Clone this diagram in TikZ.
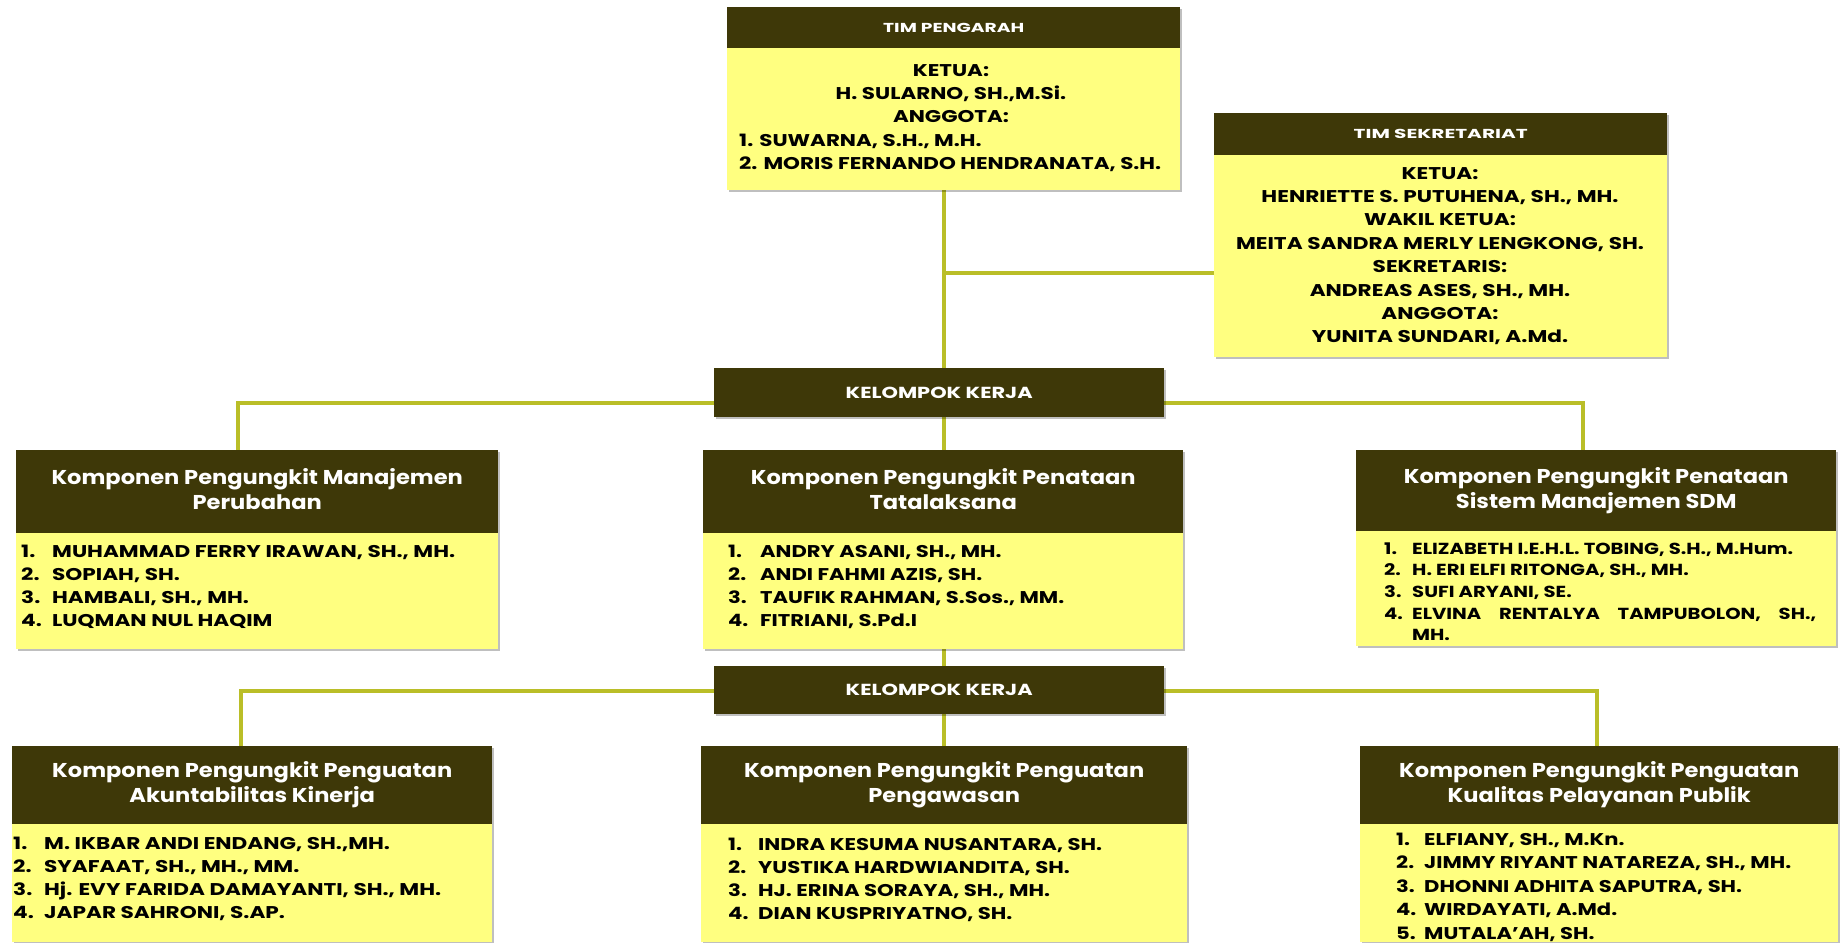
\documentclass[tikz,border=0pt]{standalone}
\usepackage{fontspec}
\setmainfont{Poppins}
\usepackage{graphicx}
\usetikzlibrary{shadows,backgrounds}

\definecolor{hdr}{RGB}{62,56,8}
\definecolor{ylw}{RGB}{255,255,128}
\definecolor{lnc}{RGB}{186,190,40}

\newlength\fitlen
\newlength\numw
\newlength\jw
\newcommand\fitbox[3]{\settowidth\fitlen{#2}\pgfmathsetmacro\fitr{#1/\fitlen}\scalebox{\fitr}[1]{#3}}
\newcommand\nlist[4]{\settowidth\fitlen{#2}\pgfmathsetmacro\fitr{#1/\fitlen}\pgfmathsetlength\numw{#3/\fitr}\scalebox{\fitr}[1]{\begin{tabular}[t]{@{}l@{}}#4\end{tabular}}}
\newcommand\nl[2]{\makebox[\numw][l]{#1}#2}

\tikzset{
  shd/.style={drop shadow={shadow xshift=1.5pt, shadow yshift=-2pt, fill=black, opacity=0.25}},
  hdrbox/.style={shd, fill=hdr, text=white, inner sep=0pt, anchor=north west},
  bodybox/.style={shd, fill=ylw, inner sep=0pt, anchor=north west},
  conn/.style={draw=lnc, line width=3.5pt},
  smallhdr/.style={font=\fontsize{13}{15}\selectfont\bfseries},
  kkhdr/.style={font=\fontsize{16}{18}\selectfont\bfseries},
  titlehdr/.style={font=\fontsize{20}{25}\selectfont\bfseries},
  namef/.style={font=\fontsize{17}{23.3}\selectfont\bfseries, inner sep=0pt, text=black},
}

\begin{document}
\begin{tikzpicture}[x=1pt,y=-1pt]
\useasboundingbox (0,0) rectangle (1841,942);

% TIM PENGARAH
\node[hdrbox, smallhdr, minimum width=453pt, minimum height=41pt] (pengh) at (727,7) {\fitbox{141}{TIM PENGARAH}{TIM PENGARAH}};
\node[bodybox, minimum width=453pt, minimum height=142pt] (pengb) at (727,48) {};
\node[namef, anchor=base] (pengt1) at (951,76) {\fitbox{422}{2. MORIS FERNANDO HENDRANATA, S.H.}{\begin{tabular}[t]{@{}c@{}}KETUA:\\H. SULARNO, SH.,M.Si.\\ANGGOTA:\end{tabular}}};
\node[namef, anchor=base west] (pengt2) at (739,146) {\fitbox{422}{2. MORIS FERNANDO HENDRANATA, S.H.}{\begin{tabular}[t]{@{}l@{}}1. SUWARNA, S.H., M.H.\\2. MORIS FERNANDO HENDRANATA, S.H.\end{tabular}}};

% TIM SEKRETARIAT
\node[hdrbox, smallhdr, minimum width=453pt, minimum height=42pt] (sekh) at (1214,113) {\fitbox{174}{TIM SEKRETARIAT}{TIM SEKRETARIAT}};
\node[bodybox, minimum width=453pt, minimum height=202pt] (sekb) at (1214,155) {};
\node[namef, font=\fontsize{17}{23.4}\selectfont\bfseries, anchor=base] (sekt) at (1440,179) {\fitbox{408}{MEITA SANDRA MERLY LENGKONG, SH.}{\begin{tabular}[t]{@{}c@{}}KETUA:\\HENRIETTE S. PUTUHENA, SH., MH.\\WAKIL KETUA:\\MEITA SANDRA MERLY LENGKONG, SH.\\SEKRETARIS:\\ANDREAS ASES, SH., MH.\\ANGGOTA:\\YUNITA SUNDARI, A.Md.\end{tabular}}};

% KELOMPOK KERJA 1
\node[hdrbox, kkhdr, minimum width=450pt, minimum height=49pt] (kk1) at (714,368) {\fitbox{187}{KELOMPOK KERJA}{KELOMPOK KERJA}};

% Row 1
\node[hdrbox, titlehdr, minimum width=482pt, minimum height=83pt] (l1h) at (16,450) {\fitbox{400}{Komponen Pengungkit Penguatan}{\begin{tabular}{@{}c@{}}Komponen Pengungkit Manajemen\\Perubahan\end{tabular}}};
\node[bodybox, minimum width=482pt, minimum height=116pt] (l1b) at (16,533) {};
\node[namef, anchor=base west] (l1t) at (21,557) {\nlist{403}{MUHAMMAD FERRY IRAWAN, SH., MH.}{31}{\nl{1.}{MUHAMMAD FERRY IRAWAN, SH., MH.}\\\nl{2.}{SOPIAH, SH.}\\\nl{3.}{HAMBALI, SH., MH.}\\\nl{4.}{LUQMAN NUL HAQIM}}};

\node[hdrbox, titlehdr, minimum width=480pt, minimum height=83pt] (m1h) at (703,450) {\fitbox{400}{Komponen Pengungkit Penguatan}{\begin{tabular}{@{}c@{}}Komponen Pengungkit Penataan\\Tatalaksana\end{tabular}}};
\node[bodybox, minimum width=480pt, minimum height=116pt] (m1b) at (703,533) {};
\node[namef, anchor=base west] (m1t) at (728,557) {\nlist{304}{TAUFIK RAHMAN, S.Sos., MM.}{32}{\nl{1.}{ANDRY ASANI, SH., MH.}\\\nl{2.}{ANDI FAHMI AZIS, SH.}\\\nl{3.}{TAUFIK RAHMAN, S.Sos., MM.}\\\nl{4.}{FITRIANI, S.Pd.I}}};

\node[hdrbox, titlehdr, minimum width=480pt, minimum height=81pt] (r1h) at (1356,450) {\fitbox{400}{Komponen Pengungkit Penguatan}{\begin{tabular}{@{}c@{}}Komponen Pengungkit Penataan\\Sistem Manajemen SDM\end{tabular}}};
\node[bodybox, minimum width=480pt, minimum height=115pt] (r1b) at (1356,531) {};
\node[namef, font=\fontsize{16}{21.7}\selectfont\bfseries, anchor=base west] (r1t) at (1384,554) {\nlist{381}{ELIZABETH I.E.H.L. TOBING, S.H., M.Hum.}{28}{\nl{1.}{ELIZABETH I.E.H.L. TOBING, S.H., M.Hum.}\\\nl{2.}{H. ERI ELFI RITONGA, SH., MH.}\\\nl{3.}{SUFI ARYANI, SE.}\\\nl{4.}{\pgfmathsetlength\jw{404/\fitr}\makebox[\jw][s]{ELVINA\hfill RENTALYA\hfill TAMPUBOLON,\hfill SH.,}}\\\nl{}{MH.}}};

% KELOMPOK KERJA 2
\node[hdrbox, kkhdr, minimum width=450pt, minimum height=48pt] (kk2) at (714,666) {\fitbox{187}{KELOMPOK KERJA}{KELOMPOK KERJA}};

% Row 2
\node[hdrbox, titlehdr, minimum width=480pt, minimum height=78pt] (l2h) at (12,746) {\fitbox{400}{Komponen Pengungkit Penguatan}{\begin{tabular}{@{}c@{}}Komponen Pengungkit Penguatan\\Akuntabilitas Kinerja\end{tabular}}};
\node[bodybox, minimum width=480pt, minimum height=118pt] (l2b) at (12,824) {};
\node[namef, anchor=base west] (l2t) at (13,849) {\nlist{397}{Hj. EVY FARIDA DAMAYANTI, SH., MH.}{31}{\nl{1.}{M. IKBAR ANDI ENDANG, SH.,MH.}\\\nl{2.}{SYAFAAT, SH., MH., MM.}\\\nl{3.}{Hj. EVY FARIDA DAMAYANTI, SH., MH.}\\\nl{4.}{JAPAR SAHRONI, S.AP.}}};

\node[hdrbox, titlehdr, minimum width=486pt, minimum height=78pt] (m2h) at (701,746) {\fitbox{400}{Komponen Pengungkit Penguatan}{\begin{tabular}{@{}c@{}}Komponen Pengungkit Penguatan\\Pengawasan\end{tabular}}};
\node[bodybox, minimum width=486pt, minimum height=118pt] (m2b) at (701,824) {};
\node[namef, anchor=base west] (m2t) at (728,850) {\nlist{344}{INDRA KESUMA NUSANTARA, SH.}{30}{\nl{1.}{INDRA KESUMA NUSANTARA, SH.}\\\nl{2.}{YUSTIKA HARDWIANDITA, SH.}\\\nl{3.}{HJ. ERINA SORAYA, SH., MH.}\\\nl{4.}{DIAN KUSPRIYATNO, SH.}}};

\node[hdrbox, titlehdr, minimum width=478pt, minimum height=78pt] (r2h) at (1360,746) {\fitbox{400}{Komponen Pengungkit Penguatan}{\begin{tabular}{@{}c@{}}Komponen Pengungkit Penguatan\\Kualitas Pelayanan Publik\end{tabular}}};
\node[bodybox, minimum width=478pt, minimum height=118pt] (r2b) at (1360,824) {};
\node[namef, font=\fontsize{17}{23.5}\selectfont\bfseries, anchor=base west] (r2t) at (1396,845) {\nlist{367}{JIMMY RIYANT NATAREZA, SH., MH.}{28}{\nl{1.}{ELFIANY, SH., M.Kn.}\\\nl{2.}{JIMMY RIYANT NATAREZA, SH., MH.}\\\nl{3.}{DHONNI ADHITA SAPUTRA, SH.}\\\nl{4.}{WIRDAYATI, A.Md.}\\\nl{5.}{MUTALA'AH, SH.}}};

% connectors
\coordinate (sp) at (944,0);
\coordinate (tap) at (944,273);
\coordinate (a1) at (238,403);
\coordinate (b1) at (1583,403);
\coordinate (a2) at (241,691);
\coordinate (b2) at (1597,691);
\begin{scope}[on background layer]
\draw[conn] (pengb.south -| sp) -- (kk1.north -| sp);
\draw[conn] (tap) -- (tap -| sekb.west);
\draw[conn] (kk1.west |- a1) -| (a1 |- l1h.north);
\draw[conn] (kk1.east |- b1) -| (b1 |- r1h.north);
\draw[conn] (kk1.south -| sp) -- (m1h.north -| sp);
\draw[conn] (m1b.south -| sp) -- (kk2.north -| sp);
\draw[conn] (kk2.west |- a2) -| (a2 |- l2h.north);
\draw[conn] (kk2.east |- b2) -| (b2 |- r2h.north);
\draw[conn] (kk2.south -| sp) -- (m2h.north -| sp);
\end{scope}
\end{tikzpicture}
\end{document}
